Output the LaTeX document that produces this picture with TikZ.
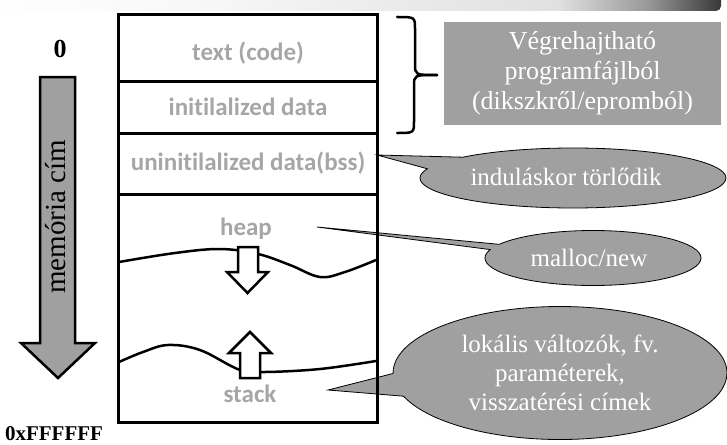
\documentclass[tikz,border=0pt]{standalone}
\usepackage{fontspec}
\setmainfont{Liberation Serif}
\newfontfamily\segfont[Ligatures=NoCommon]{Carlito}
\usetikzlibrary{shapes.callouts,positioning}
\definecolor{bubblegray}{RGB}{160,160,160}
\definecolor{labelgray}{RGB}{166,166,166}
\pgfdeclarehorizontalshading{topbar}{100bp}{color(0bp)=(white); color(25bp)=(white); color(40bp)=(black!3); color(53bp)=(black!8); color(64bp)=(black!12); color(70bp)=(black!40); color(75bp)=(black!78); color(100bp)=(black!78)}

\begin{document}
\begin{tikzpicture}[x=1pt,y=1pt]
\tikzset{
  seg/.style={draw, line width=3pt, minimum width=259pt, inner sep=0pt, outer sep=0pt},
  seglabel/.style={text=labelgray, inner sep=0pt, font=\segfont\bfseries\fontsize{25}{30}\selectfont},
  bubble/.style={ellipse callout, draw=black, line width=0.8pt, fill=bubblegray, text=white,
    inner sep=0pt, align=center, font=\fontsize{25}{29}\selectfont},
  hollowarrow/.style={draw, fill=white, line width=2.5pt, line join=miter},
  wave/.style={line width=2.5pt, smooth, tension=0.6}
}
\useasboundingbox (0,0) rectangle (727,-444);
\shade[shading=topbar, rounded corners=5pt] (-20,8) rectangle (721,-11);

\coordinate (bsstip) at (377,-155);
\coordinate (heaptip) at (317,-227);
\coordinate (stacktip) at (328,-390);

\node[bubble, minimum width=306pt, minimum height=60pt, callout pointer arc=26,
  callout absolute pointer={(bsstip)}] (bssnote) at (573,-178) {};
\node[white, font=\fontsize{25}{29}\selectfont] (bsstext) at (566,-177) {induláskor törlődik};
\node[bubble, minimum width=216pt, minimum height=55pt, callout pointer arc=12,
  callout absolute pointer={(heaptip)}] (heapnote) at (593,-258) {};
\node[white, font=\fontsize{25}{29}\selectfont] (heaptext) at (589,-258) {malloc/new};
\node[bubble, minimum width=334pt, minimum height=133pt, callout pointer arc=20,
  callout absolute pointer={(stacktip)}] (stacknote) at (560,-373)
  {lokális változók, fv.\\paraméterek,\\visszatérési címek};

\node[fill=bubblegray, minimum width=277pt, minimum height=103pt, inner sep=0pt,
  text=white, align=center, font=\fontsize{26}{30}\selectfont] (loadbox) at (582.5,-73.5)
  {Végrehajtható\\programfájlból\\(dikszkről/epromból)};

\node[seg, minimum height=66pt] (codeseg) at (247.5,-48) {};
\node[seg, minimum height=52pt, below=0pt of codeseg] (initseg) {};
\node[seg, minimum height=61pt, below=0pt of initseg] (bssseg) {};
\node[seg, minimum height=228pt, below=0pt of bssseg] (dynseg) {};

\node[seglabel] (codelbl) at (248,-53) {text (code)};
\node[seglabel] (initlbl) at (248,-107) {initilalized data};
\node[seglabel] (bsslbl) at (248,-163) {uninitilalized data(bss)};
\node[seglabel] (heaplbl) at (246,-229) {heap};
\node[seglabel] (stacklbl) at (250,-394) {stack};

\draw[wave] plot coordinates {(119,-262) (175,-253) (220,-249) (258,-254) (290,-265) (320,-277) (345,-272) (376,-260)};
\draw[wave] plot coordinates {(119,-362) (143,-352) (168,-345) (200,-350) (240,-370) (265,-372) (320,-369) (376,-361)};
\draw[hollowarrow] (238,-247) -- (258,-247) -- (258,-272) -- (268,-272) -- (247.5,-293) -- (227,-272) -- (238,-272) -- cycle;
\draw[hollowarrow] (240,-378) -- (260,-378) -- (260,-353) -- (271,-353) -- (250,-332) -- (229,-353) -- (240,-353) -- cycle;

\draw[line width=2.5pt, line cap=round] (397,-17) .. controls (415,-17) .. (415,-29) -- (415,-64) .. controls (415,-75) .. (437,-75);
\draw[line width=2.5pt, line cap=round] (437,-75) .. controls (414,-75) .. (414,-86) -- (414,-121) .. controls (414,-133) .. (397,-133);

\draw[line width=2.5pt, fill=bubblegray, line join=miter] (40,-77) -- (75,-77) -- (75,-343) -- (95,-343) -- (58,-378) -- (21,-343) -- (40,-343) -- cycle;
\node[rotate=90, font=\fontsize{29}{34}\selectfont] (addrlbl) at (56,-217) {memória cím};
\node[font=\bfseries\fontsize{26}{30}\selectfont] (lowaddr) at (60,-49) {0};
\node[font=\bfseries\fontsize{21}{25}\selectfont] (highaddr) at (54,-434) {0xFFFFFF};
\end{tikzpicture}
\end{document}
